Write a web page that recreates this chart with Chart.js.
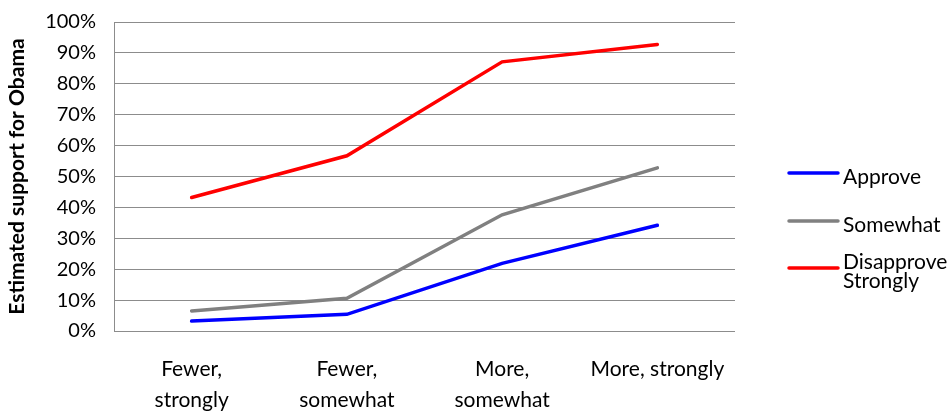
<!DOCTYPE html>
<html>
<head>
<meta charset="utf-8">
<script src="https://cdn.jsdelivr.net/npm/chart.js@4/dist/chart.umd.min.js"></script>
<style>
  html, body { margin: 0; padding: 0; background: #fff; }
  #wrap { position: relative; width: 952px; height: 411px; }
</style>
</head>
<body>
<div id="wrap"><canvas id="c" width="952" height="411"></canvas></div>
<script>
// Categories along the x axis (multi-line labels)
const categories = [
  ['Fewer,', 'strongly'],
  ['Fewer,', 'somewhat'],
  ['More,', 'somewhat'],
  'More, strongly'
];

// Estimated support for Obama, in percent
const approve = [3.2, 5.4, 21.9, 34.2];
const somewhat = [6.5, 10.6, 37.6, 52.8];
const disapproveStrongly = [43.2, 56.7, 87.1, 92.7];

// Series legend text (each entry may span several lines)
const seriesNames = [['Approve'], ['Somewhat'], ['Disapprove', 'Strongly']];
const seriesColors = ['#0000FF', '#808080', '#FF0000'];

const yTicks = [0, 10, 20, 30, 40, 50, 60, 70, 80, 90, 100];

const FONT = 'Lato, "Open Sans", sans-serif';
const GRID = '#8c8c8c';

// Legend drawn at the right of the plot: line swatch + text
const sideLegend = {
  id: 'sideLegend',
  afterDraw(chart) {
    const ctx = chart.ctx;
    const rows = [173, 221, 268];
    ctx.save();
    ctx.font = '21px ' + FONT;
    ctx.fillStyle = '#000';
    ctx.textAlign = 'left';
    ctx.textBaseline = 'middle';
    chart.data.datasets.forEach((ds, i) => {
      const y = rows[i];
      ctx.strokeStyle = ds.borderColor;
      ctx.lineWidth = 3.5;
      ctx.lineCap = 'round';
      ctx.beginPath();
      ctx.moveTo(789, y);
      ctx.lineTo(838, y);
      ctx.stroke();
      const lines = seriesNames[i];
      const lh = 19;
      const y0 = y - (lines.length - 1) * lh / 2 + 4;
      lines.forEach((t, k) => ctx.fillText(t, 843, y0 + k * lh));
    });
    ctx.restore();
  }
};

const mkSet = (label, data, color) => ({
  label, data,
  borderColor: color,
  backgroundColor: color,
  borderWidth: 3.5,
  borderCapStyle: 'round',
  pointRadius: 0,
  pointHoverRadius: 0,
  tension: 0,
  fill: false
});

new Chart(document.getElementById('c'), {
  type: 'line',
  data: {
    labels: categories,
    datasets: [
      mkSet(seriesNames[0].join(' '), approve, seriesColors[0]),
      mkSet(seriesNames[1].join(' '), somewhat, seriesColors[1]),
      mkSet(seriesNames[2].join(' '), disapproveStrongly, seriesColors[2])
    ]
  },
  options: {
    responsive: false,
    animation: false,
    devicePixelRatio: 1,
    layout: { padding: { top: 22, right: 217, bottom: 0, left: 0 } },
    plugins: {
      legend: { display: false },
      tooltip: { enabled: false }
    },
    scales: {
      x: {
        offset: true,
        grid: { display: false, drawTicks: false },
        border: { display: false },
        ticks: {
          color: '#000',
          font: { family: FONT, size: 21, lineHeight: 1.5 },
          padding: 22,
          maxRotation: 0,
          autoSkip: false
        },
        afterFit(scale) { scale.height = 80; }
      },
      y: {
        min: 0,
        max: 100,
        afterBuildTicks(scale) { scale.ticks = yTicks.map(v => ({ value: v })); },
        grid: { color: GRID, lineWidth: 1, drawTicks: false },
        border: { display: true, color: GRID, width: 1 },
        ticks: {
          color: '#000',
          font: { family: FONT, size: 20 },
          padding: 18,
          callback: v => v + '%'
        },
        title: {
          display: true,
          text: 'Estimated support for Obama',
          color: '#000',
          font: { family: FONT, size: 21, weight: 'bold' },
          padding: { top: 5, bottom: 4 }
        },
        afterFit(scale) {
          scale.width = 114;
          scale.paddingTop = 0;
          scale.paddingBottom = 0;
        }
      }
    }
  },
  plugins: [sideLegend]
});
</script>
</body>
</html>
